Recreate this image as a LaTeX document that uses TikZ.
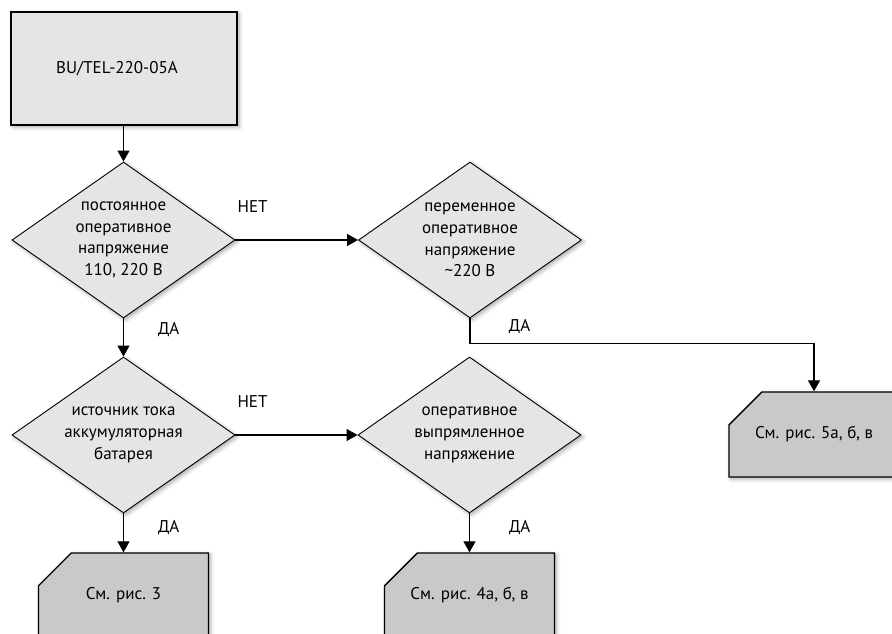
\documentclass[tikz,border=0pt]{standalone}
\usepackage{fontspec}
\setmainfont{PT Sans}
\usetikzlibrary{arrows.meta,shapes.geometric,shapes.misc,shadows.blur}

\begin{document}
\begin{tikzpicture}[
  x=1pt, y=1pt,
  soft/.style={blur shadow={shadow xshift=2pt, shadow yshift=-2pt, shadow blur radius=4pt, shadow opacity=35}},
  start/.style={draw, line width=1.5pt, fill=gray!20, minimum width=226pt, minimum height=113pt, inner sep=0pt, soft},
  decide/.style={draw, diamond, aspect=1.43, line width=0.9pt, fill=gray!20, minimum width=223pt, minimum height=156pt, inner sep=0pt, align=center, soft},
  ref/.style={draw, chamfered rectangle, chamfered rectangle corners=north west, chamfered rectangle xsep=27pt, chamfered rectangle ysep=25pt, line width=1.3pt, fill=gray!42, minimum width=170pt, minimum height=85pt, inner sep=0pt, soft},
  arr/.style={-{Triangle[length=11pt,width=12pt]}, line width=1.2pt},
  lbl/.style={inner sep=0pt},
  font=\fontsize{17}{21.7}\selectfont
]
  \useasboundingbox (0,0) rectangle (892,634);

  % left column
  \node[start] (unit) at (124,565.5) {\hspace*{-14pt}BU/TEL-220-05A};
  \node[decide] (dc) at (123.5,394) {постоянное\\оперативное\\напряжение\\110, 220 В};
  \node[decide] (bat) at (123.5,199) {источник тока\\аккумуляторная\\батарея};
  \node[ref] (fig3) at (123.5,38.5) {См. рис. 3};

  % middle column
  \node[decide] (ac) at (470,394) {переменное\\оперативное\\напряжение\\\textasciitilde220 В};
  \node[decide] (rect) at (469.5,199) {оперативное\\выпрямленное\\напряжение};
  \node[ref] (fig4) at (469.5,38.5) {См. рис. 4а, б, в};

  % right column
  \node[ref] (fig5) at (814,199.5) {См. рис. 5а, б, в};

  \draw[arr] (unit.south -| dc.north) -- (dc.north);
  \draw[arr] (dc.east) -- node[lbl, pos=0.14, above=27pt] {НЕТ} (ac.west);
  \draw[arr] (dc.south) -- node[lbl, pos=0.28, right=34pt] {ДА} (bat.north);
  \draw[arr] (bat.east) -- node[lbl, pos=0.14, above=27pt] {НЕТ} (rect.west);
  \draw[arr] (bat.south) -- node[lbl, pos=0.35, right=34pt] {ДА} (fig3.north);
  \draw[arr] (rect.south) -- node[lbl, pos=0.35, right=39pt] {ДА} (fig4.north);

  \coordinate (bend) at ([yshift=-25pt]ac.south);
  \draw[arr] (ac.south) -- (bend) -| node[lbl, pos=0.072, above=9pt] {ДА} (fig5.north);
\end{tikzpicture}
\end{document}
